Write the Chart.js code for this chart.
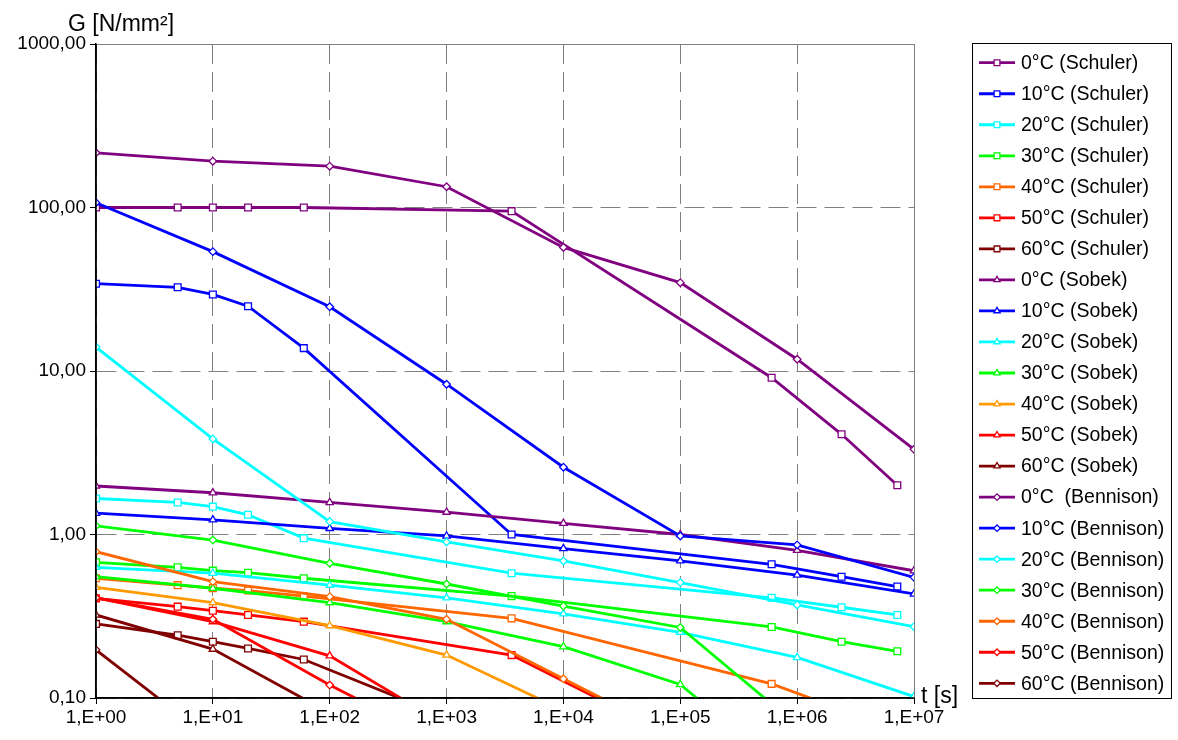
<!DOCTYPE html>
<html>
<head>
<meta charset="utf-8">
<script src="https://cdn.jsdelivr.net/npm/chart.js@4/dist/chart.umd.min.js"></script>
<style>
  html, body { margin: 0; padding: 0; background: #ffffff; }
  #wrap { position: relative; width: 1178px; height: 740px; }
  canvas { display: block; }
</style>
</head>
<body>
<div id="wrap"><canvas id="c" width="1178" height="740"></canvas></div>
<script>
// ---------- axis ticks ----------
const xTicks = [1, 10, 100, 1000, 10000, 100000, 1000000, 10000000];
const xTickLabels = ['1,E+00', '1,E+01', '1,E+02', '1,E+03', '1,E+04', '1,E+05', '1,E+06', '1,E+07'];
const yTicks = [0.1, 1, 10, 100, 1000];
const yTickLabels = ['0,10', '1,00', '10,00', '100,00', '1000,00'];
const yAxisTitle = 'G [N/mm²]';
const xAxisTitle = 't [s]';

// ---------- time values ----------
const schulerTime = [1, 5, 10, 20, 60, 3600, 604800, 2400000, 7200000];
const decadeTime = [1, 10, 100, 1000, 10000, 100000, 1000000, 10000000];

// ---------- Schuler ----------
const schuler0  = [100, 100, 100, 100, 100, 95, 9.1, 4.1, 2.0];
const schuler10 = [34.2, 32.5, 29.4, 24.9, 13.8, 1.0, 0.657, 0.552, 0.48];
const schuler20 = [1.66, 1.57, 1.48, 1.32, 0.95, 0.58, 0.41, 0.359, 0.322];
const schuler30 = [0.676, 0.63, 0.601, 0.584, 0.54, 0.42, 0.272, 0.221, 0.193];
const schuler40 = [0.54, 0.49, 0.47, 0.454, 0.42, 0.307, 0.122, 0.085];
const schuler50 = [0.407, 0.362, 0.342, 0.322, 0.293, 0.183, 0.029];
const schuler60 = [0.284, 0.242, 0.221, 0.201, 0.172, 0.053];

// ---------- Sobek ----------
const sobek0  = [1.98, 1.80, 1.57, 1.37, 1.17, 1.00, 0.80, 0.60];
const sobek10 = [1.35, 1.23, 1.09, 0.98, 0.82, 0.69, 0.565, 0.433];
const sobek20 = [0.63, 0.58, 0.49, 0.41, 0.327, 0.252, 0.177, 0.102];
const sobek30 = [0.552, 0.469, 0.383, 0.293, 0.206, 0.121, 0.031];
const sobek40 = [0.475, 0.383, 0.277, 0.183, 0.084];
const sobek50 = [0.41, 0.293, 0.181, 0.068];
const sobek60 = [0.322, 0.199, 0.081];

// ---------- Bennison ----------
const bennison0  = [216, 192, 179, 134, 57, 34.7, 11.8, 3.32];
const bennison10 = [107, 53.7, 24.7, 8.3, 2.58, 0.98, 0.863, 0.547];
const bennison20 = [14.0, 3.84, 1.20, 0.90, 0.689, 0.508, 0.371, 0.273];
const bennison30 = [1.13, 0.925, 0.667, 0.498, 0.365, 0.270, 0.068];
const bennison40 = [0.785, 0.515, 0.417, 0.303, 0.131, 0.057];
const bennison50 = [0.41, 0.303, 0.120, 0.052];
const bennison60 = [0.197, 0.055];

// ---------- series labels ----------
const seriesLabels = [
  '0°C (Schuler)', '10°C (Schuler)', '20°C (Schuler)', '30°C (Schuler)', '40°C (Schuler)', '50°C (Schuler)', '60°C (Schuler)',
  '0°C (Sobek)', '10°C (Sobek)', '20°C (Sobek)', '30°C (Sobek)', '40°C (Sobek)', '50°C (Sobek)', '60°C (Sobek)',
  '0°C  (Bennison)', '10°C (Bennison)', '20°C (Bennison)', '30°C (Bennison)', '40°C (Bennison)', '50°C (Bennison)', '60°C (Bennison)'
];

// ---------- styles (kept apart from data) ----------
const palette = {
  c0: '#800080', c10: '#0000FF', c20: '#00FFFF', c30: '#00FF00',
  c40a: '#FF6600', c40b: '#FF9900', c50: '#FF0000', c60: '#800000'
};
const seriesDefs = [
  [schulerTime, schuler0, palette.c0, 'rect'],
  [schulerTime, schuler10, palette.c10, 'rect'],
  [schulerTime, schuler20, palette.c20, 'rect'],
  [schulerTime, schuler30, palette.c30, 'rect'],
  [schulerTime, schuler40, palette.c40a, 'rect'],
  [schulerTime, schuler50, palette.c50, 'rect'],
  [schulerTime, schuler60, palette.c60, 'rect'],
  [decadeTime, sobek0, palette.c0, 'triangle'],
  [decadeTime, sobek10, palette.c10, 'triangle'],
  [decadeTime, sobek20, palette.c20, 'triangle'],
  [decadeTime, sobek30, palette.c30, 'triangle'],
  [decadeTime, sobek40, palette.c40b, 'triangle'],
  [decadeTime, sobek50, palette.c50, 'triangle'],
  [decadeTime, sobek60, palette.c60, 'triangle'],
  [decadeTime, bennison0, palette.c0, 'rectRot'],
  [decadeTime, bennison10, palette.c10, 'rectRot'],
  [decadeTime, bennison20, palette.c20, 'rectRot'],
  [decadeTime, bennison30, palette.c30, 'rectRot'],
  [decadeTime, bennison40, palette.c40a, 'rectRot'],
  [decadeTime, bennison50, palette.c50, 'rectRot'],
  [decadeTime, bennison60, palette.c60, 'rectRot']
];
const markerRadius = { rect: 4.8, triangle: 4.2, rectRot: 3.8 };

const datasets = seriesDefs.map((d, i) => ({
  label: seriesLabels[i],
  data: d[1].map((v, k) => ({ x: d[0][k], y: v })),
  borderColor: d[2],
  backgroundColor: '#ffffff',
  borderWidth: 2.8,
  pointStyle: d[3],
  pointRadius: markerRadius[d[3]],
  pointBorderWidth: 1.3,
  pointBorderColor: d[2],
  pointBackgroundColor: '#ffffff',
  tension: 0,
  fill: false,
  order: 30 - i
}));

const FONT = '"Liberation Sans", Arial, sans-serif';

function drawMarker(ctx, style, x, y, r) {
  ctx.beginPath();
  if (style === 'rect') {
    const s = r * Math.SQRT1_2;
    ctx.rect(x - s, y - s, 2 * s, 2 * s);
  } else if (style === 'rectRot') {
    ctx.moveTo(x - r, y); ctx.lineTo(x, y - r); ctx.lineTo(x + r, y); ctx.lineTo(x, y + r); ctx.closePath();
  } else {
    const a = 2 * Math.PI / 3;
    ctx.moveTo(x, y - r);
    ctx.lineTo(x + Math.sin(a) * r, y - Math.cos(a) * r);
    ctx.lineTo(x - Math.sin(a) * r, y - Math.cos(a) * r);
    ctx.closePath();
  }
  ctx.fill(); ctx.stroke();
}

const decorPlugin = {
  id: 'decor',
  afterDraw(chart) {
    const ctx = chart.ctx;
    const a = chart.chartArea;
    ctx.save();
    ctx.setLineDash([]);
    // solid top & right frame (gray)
    ctx.strokeStyle = '#808080';
    ctx.lineWidth = 1;
    ctx.beginPath();
    ctx.moveTo(a.left, a.top + 0.5); ctx.lineTo(a.right + 0.5, a.top + 0.5); ctx.lineTo(a.right + 0.5, a.bottom);
    ctx.stroke();
    // solid black left & bottom axes
    ctx.strokeStyle = '#000000';
    ctx.lineWidth = 1.5;
    ctx.beginPath();
    ctx.moveTo(a.left, a.top); ctx.lineTo(a.left, a.bottom); ctx.lineTo(a.right + 1, a.bottom);
    ctx.stroke();
    // axis titles
    ctx.fillStyle = '#000000';
    ctx.font = '23px ' + FONT;
    ctx.textAlign = 'left';
    ctx.textBaseline = 'alphabetic';
    ctx.fillText(yAxisTitle, 68, 31);
    ctx.textBaseline = 'middle';
    ctx.fillText(xAxisTitle, 921, 697);
    // legend
    const lx = 972.5, ly = 43.5, lw = 199, lh = 655;
    ctx.strokeStyle = '#000000';
    ctx.lineWidth = 1;
    ctx.strokeRect(lx, ly, lw, lh);
    ctx.font = '19.5px ' + FONT;
    chart.data.datasets.forEach((ds, i) => {
      const cy = 62.7 + i * 31.03;
      ctx.strokeStyle = ds.borderColor;
      ctx.lineWidth = 2.8;
      ctx.beginPath(); ctx.moveTo(979, cy); ctx.lineTo(1015, cy); ctx.stroke();
      ctx.fillStyle = '#ffffff';
      ctx.lineWidth = 1.3;
      drawMarker(ctx, ds.pointStyle, 997, cy, ds.pointRadius * 0.85);
      ctx.fillStyle = '#000000';
      ctx.textBaseline = 'middle';
      ctx.fillText(ds.label, 1021, cy + 1);
    });
    ctx.restore();
  }
};

new Chart(document.getElementById('c'), {
  type: 'line',
  data: { datasets },
  options: {
    responsive: false,
    animation: false,
    devicePixelRatio: 1,
    layout: { padding: { left: 0, top: 44, right: 264, bottom: 0 } },
    plugins: { legend: { display: false }, tooltip: { enabled: false }, title: { display: false } },
    scales: {
      x: {
        type: 'logarithmic',
        min: 1, max: 10000000,
        afterBuildTicks: (axis) => { axis.ticks = xTicks.map(v => ({ value: v })); },
        afterFit: (scale) => { scale.height = 42; },
        ticks: {
          autoSkip: false, maxRotation: 0, padding: 2, color: '#000000',
          font: { family: FONT, size: 19 },
          callback: (v) => { const k = xTicks.indexOf(v); return k >= 0 ? xTickLabels[k] : ''; }
        },
        grid: { color: '#808080', lineWidth: 1, tickLength: 6, tickColor: '#000000', drawTicks: true },
        border: { display: true, color: '#000000', width: 1.5, dash: [20, 8] }
      },
      y: {
        type: 'logarithmic',
        min: 0.1, max: 1000,
        afterBuildTicks: (axis) => { axis.ticks = yTicks.map(v => ({ value: v })); },
        afterFit: (scale) => { scale.width = 96; },
        ticks: {
          autoSkip: false, padding: 4, color: '#000000',
          font: { family: FONT, size: 19 },
          callback: (v) => { const k = yTicks.indexOf(v); return k >= 0 ? yTickLabels[k] : ''; }
        },
        grid: { color: '#808080', lineWidth: 1, tickLength: 6, tickColor: '#000000', drawTicks: true },
        border: { display: true, color: '#000000', width: 1.5, dash: [20, 8] }
      }
    }
  },
  plugins: [decorPlugin]
});
</script>
</body>
</html>
